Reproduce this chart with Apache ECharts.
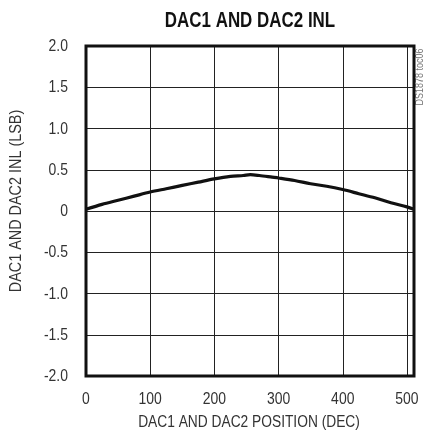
<!DOCTYPE html>
<html><head><meta charset="utf-8">
<script src="https://cdn.jsdelivr.net/npm/echarts@6/dist/echarts.min.js"></script>
<style>html,body{margin:0;padding:0;background:#fff}#c{width:425px;height:436px}</style>
</head><body><div id="c"></div>
<script>
const titleText = 'DAC1 AND DAC2 INL';
const xName = 'DAC1 AND DAC2 POSITION (DEC)';
const yName = 'DAC1 AND DAC2 INL (LSB)';
const watermark = 'DS1878 toc06';
const positions = [0, 25, 50, 75, 100, 125, 150, 175, 200, 225, 245, 256, 270, 290, 300, 325, 350, 375, 400, 425, 450, 475, 500, 511];
const inl =       [0.02, 0.08, 0.13, 0.18, 0.23, 0.27, 0.31, 0.35, 0.39, 0.42, 0.43, 0.44, 0.43, 0.41, 0.40, 0.37, 0.33, 0.30, 0.26, 0.21, 0.16, 0.10, 0.05, 0.02];
const xTicks = [0, 100, 200, 300, 400, 500];
const yTicks = [-2, -1.5, -1, -0.5, 0, 0.5, 1, 1.5, 2];
const yTickLabels = ['-2.0', '-1.5', '-1.0', '-0.5', '0', '0.5', '1.0', '1.5', '2.0'];

const font = '"Liberation Sans",Arial,sans-serif';
const chart = echarts.init(document.getElementById('c'), null, {renderer: 'canvas'});
chart.setOption({
  animation: false,
  grid: {left: 86, right: 11, top: 46, bottom: 60, show: false},
  xAxis: {
    type: 'value', min: 0, max: 511, interval: 100,
    axisLine: {show: false}, axisTick: {show: false}, axisLabel: {show: false},
    splitLine: {show: true, lineStyle: {color: '#222', width: 1}}
  },
  yAxis: {
    type: 'value', min: yTicks[0], max: yTicks[yTicks.length - 1], interval: 0.5,
    axisLine: {show: false}, axisTick: {show: false}, axisLabel: {show: false},
    splitLine: {show: true, lineStyle: {color: '#222', width: 1}}
  },
  series: [{
    type: 'line', data: positions.map((p, i) => [p, inl[i]]),
    showSymbol: false, smooth: 0.3,
    lineStyle: {color: '#111', width: 3.2}
  }]
});

const g = [
  {type: 'rect', shape: {x: 86, y: 46, width: 328, height: 330},
   style: {fill: 'none', stroke: '#111', lineWidth: 3}, z: 10},
  {type: 'text', x: 250, y: 21, scaleX: 0.77, style: {text: titleText, font: 'bold 22px ' + font,
    fill: '#111', textAlign: 'center', textVerticalAlign: 'middle'}},
  {type: 'text', x: 249, y: 423, scaleX: 0.86, style: {text: xName, font: '16px ' + font,
    fill: '#333', textAlign: 'center', textVerticalAlign: 'middle'}},
  {type: 'text', x: 17, y: 201, rotation: Math.PI / 2, scaleX: 0.9, style: {text: yName, font: '16px ' + font,
    fill: '#333', textAlign: 'center', textVerticalAlign: 'middle'}},
  {type: 'text', x: 420, y: 77, rotation: Math.PI / 2, scaleX: 0.9, style: {text: watermark, font: '10px ' + font,
    fill: '#777', textAlign: 'center', textVerticalAlign: 'middle'}}
];
xTicks.forEach(v => {
  const p = chart.convertToPixel({gridIndex: 0}, [v, yTicks[0]]);
  g.push({type: 'text', x: p[0], y: 399, scaleX: 0.82, style: {text: String(v), font: '17px ' + font,
    fill: '#333', textAlign: 'center', textVerticalAlign: 'middle'}});
});
yTicks.forEach((v, i) => {
  const p = chart.convertToPixel({gridIndex: 0}, [0, v]);
  g.push({type: 'text', x: 68, y: p[1] + 0.5, scaleX: 0.82, style: {text: yTickLabels[i], font: '17px ' + font,
    fill: '#333', textAlign: 'right', textVerticalAlign: 'middle'}});
});
chart.setOption({graphic: g});
</script></body></html>
